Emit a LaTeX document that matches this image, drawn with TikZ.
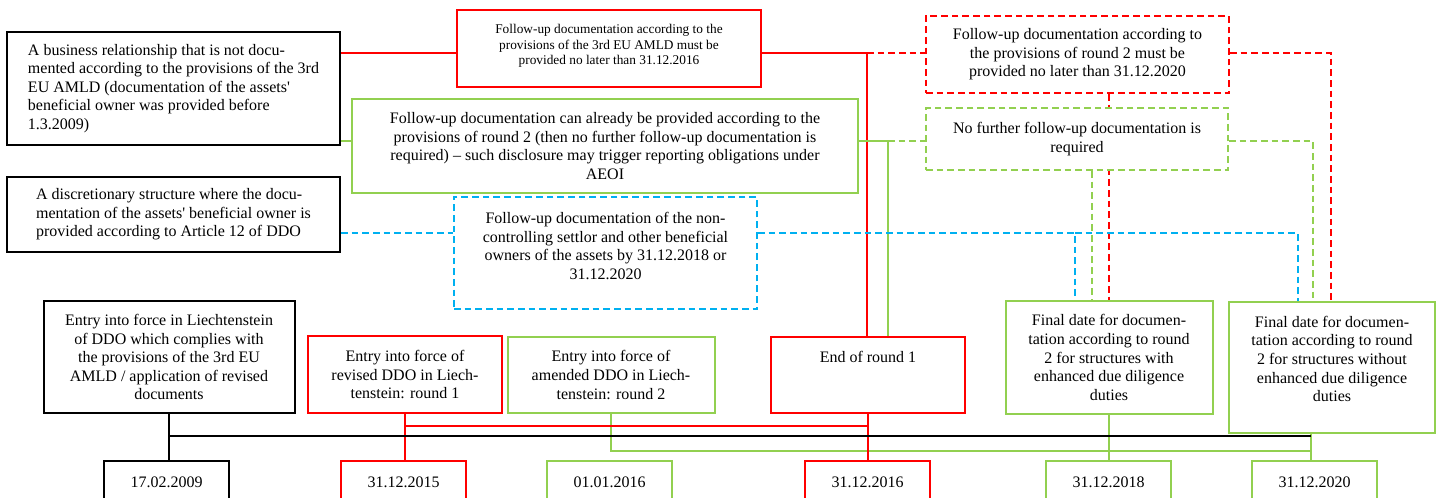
\documentclass[tikz,border=0pt]{standalone}
\usepackage{fontspec}
\setmainfont{Liberation Serif}
\usetikzlibrary{backgrounds}
\definecolor{ddored}{RGB}{255,0,0}
\definecolor{ddogreen}{RGB}{146,208,80}
\definecolor{ddoblue}{RGB}{0,176,240}
\newcommand{\padbot}[1]{\rule[-#1]{0pt}{0pt}}

\tikzset{
    box/.style={draw, line width=1.5pt, fill=white, inner sep=0pt, align=center,
        font=\fontsize{12}{13.9}\selectfont},
    dashbox/.style={box, dash pattern=on 5pt off 3pt},
    datebox/.style={box, minimum width=93.75pt, minimum height=31.5pt},
    link/.style={line width=1.4pt},
    dashlink/.style={link, dash pattern=on 5pt off 3pt},
}

\begin{document}
\begin{tikzpicture}[x=0.75pt, y=-0.75pt]
    \clip (0,0) rectangle (1439,497);

    % situations on the left
    \node[box, align=left, minimum width=249.75pt, minimum height=84.75pt] (relA) at (173.5,88.5)
        {A business relationship that is not docu-\\mented according to the provisions of the 3rd\\EU AMLD (documentation of the assets\textquotesingle\\beneficial owner was provided before\\1.3.2009)};
    \node[box, align=left, minimum width=249.75pt, minimum height=56.25pt] (discB) at (173.5,214.5)
        {A discretionary structure where the docu-\\mentation of the assets\textquotesingle{} beneficial owner is\\provided according to Article 12 of DDO};

    % follow-up documentation
    \node[box, draw=ddored, minimum width=228pt, minimum height=57.75pt,
        font=\fontsize{10}{11.6}\selectfont] (fu3rd) at (609,48.5)
        {Follow-up documentation according to the\\provisions of the 3rd EU AMLD must be\\provided no later than 31.12.2016\padbot{6pt}};
    \node[dashbox, draw=ddored, minimum width=227.25pt, minimum height=57.75pt] (furound2) at (1077.5,54.5)
        {Follow-up documentation according to\\the provisions of round 2 must be\\provided no later than 31.12.2020};
    \node[box, draw=ddogreen, minimum width=379.5pt, minimum height=70.5pt] (fuready) at (605,146)
        {Follow-up documentation can already be provided according to the\\provisions of round 2 (then no further follow-up documentation is\\required) -- such disclosure may trigger reporting obligations under\\AEOI};
    \node[dashbox, draw=ddogreen, minimum width=226.5pt, minimum height=46.5pt] (nofurther) at (1077,139)
        {No further follow-up documentation is\\required};
    \node[dashbox, draw=ddoblue, minimum width=227.25pt, minimum height=84pt] (fusettlor) at (605.5,253)
        {Follow-up documentation of the non-\\controlling settlor and other beneficial\\owners of the assets by 31.12.2018 or\\31.12.2020\padbot{11pt}};

    % events on the time line
    \node[box, minimum width=188.25pt, minimum height=84pt] (ddo2009) at (169,357)
        {Entry into force in Liechtenstein\\of DDO which complies with\\the provisions of the 3rd EU\\AMLD / application of revised\\documents};
    \node[box, draw=ddored, minimum width=145.5pt, minimum height=57.75pt] (rev1) at (405,374.5)
        {Entry into force of\\revised DDO in Liech-\\tenstein: round 1};
    \node[box, draw=ddogreen, minimum width=155.25pt, minimum height=57pt] (amend2) at (611,375)
        {Entry into force of\\amended DDO in Liech-\\tenstein: round 2};
    \node[box, draw=ddored, minimum width=145.5pt, minimum height=57pt] (end1) at (868,375)
        {End of round 1\padbot{27pt}};
    \node[box, draw=ddogreen, minimum width=155.25pt, minimum height=84.75pt] (final18) at (1109,357.5)
        {Final date for documen-\\tation according to round\\2 for structures with\\enhanced due diligence\\duties};
    \node[box, draw=ddogreen, minimum width=154.5pt, minimum height=98.25pt] (final20) at (1332,367.5)
        {Final date for documen-\\tation according to round\\2 for structures without\\enhanced due diligence\\duties\padbot{13pt}};

    % dates
    \node[datebox] (d2009) at (166.5,482) {17.02.2009};
    \node[datebox, draw=ddored] (d2015) at (403.5,482) {31.12.2015};
    \node[datebox, draw=ddogreen] (d2016a) at (609.5,482) {01.01.2016};
    \node[datebox, draw=ddored] (d2016) at (867.5,482) {31.12.2016};
    \node[datebox, draw=ddogreen] (d2018) at (1108.5,482) {31.12.2018};
    \node[datebox, draw=ddogreen] (d2020) at (1314.5,482) {31.12.2020};

    % junctions
    \coordinate (j3rd) at (867,53);
    \coordinate (jready) at (888,141);
    \coordinate (jr2) at (1331,53);
    \coordinate (jg20) at (1313,141);
    \coordinate (cg18) at (1092,0);
    \coordinate (jb18) at (1075,233);
    \coordinate (jb20) at (1298,233);
    \coordinate (c20) at (1311,0);
    \coordinate (rline) at (0,426);
    \coordinate (axis) at (0,436);
    \coordinate (gline) at (0,451);

    \begin{scope}[on background layer]
        % round 1
        \draw[link, ddored] (relA.east |- j3rd) -- (fu3rd.west |- j3rd);
        \draw[link, ddored] (fu3rd.east |- j3rd) -- (j3rd) -- (end1.north -| j3rd);
        \draw[dashlink, ddored] (j3rd) -- (furound2.west |- j3rd);
        \draw[dashlink, ddored] (furound2.east |- jr2) -- (jr2) -- (final20.north -| jr2);
        \draw[dashlink, ddored] (furound2.south -| final18.north) -- (final18.north);
        % round 2
        \draw[link, ddogreen] (relA.east |- jready) -- (fuready.west |- jready);
        \draw[link, ddogreen] (fuready.east |- jready) -- (jready) -- (end1.north -| jready);
        \draw[dashlink, ddogreen] (jready) -- (nofurther.west |- jready);
        \draw[dashlink, ddogreen] (nofurther.east |- jg20) -- (jg20) -- (final20.north -| jg20);
        \draw[dashlink, ddogreen] (nofurther.south -| cg18) -- (final18.north -| cg18);
        % discretionary structures
        \draw[dashlink, ddoblue] (discB.east |- jb18) -- (fusettlor.west |- jb18);
        \draw[dashlink, ddoblue] (fusettlor.east |- jb18) -- (jb18) -- (final18.north -| jb18);
        \draw[dashlink, ddoblue] (jb18) -- (jb20) -- (final20.north -| jb20);
        % time line
        \draw[link, ddogreen] (amend2.south) |- (c20 |- gline);
        \draw[link, ddogreen] (final18.south) -- (final18.south |- d2018.north);
        \draw[link, ddogreen] (final20.south -| c20) -- (d2020.north -| c20);
        \draw[link, ddored] (rev1.south) -- (rev1.south |- d2015.north);
        \draw[link, ddored] (rev1.south |- rline) -- (end1.south |- rline);
        \draw[link, ddored] (end1.south) -- (end1.south |- d2016.north);
        \draw[line width=1.6pt] (ddo2009.south) -- (ddo2009.south |- d2009.north);
        \draw[line width=1.6pt] (ddo2009.south |- axis) -- (c20 |- axis);
    \end{scope}
\end{tikzpicture}
\end{document}
